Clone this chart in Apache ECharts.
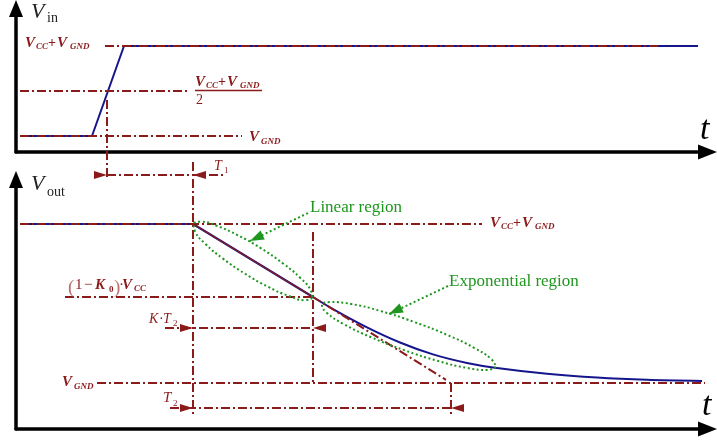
<!DOCTYPE html>
<html><head><meta charset="utf-8">
<script src="https://cdn.jsdelivr.net/npm/echarts@6/dist/echarts.min.js"></script>
<style>html,body{margin:0;padding:0;background:#fff}#c{width:717px;height:443px}</style>
</head><body><div id="c"></div>
<script>
// ---- data: time t (arbitrary units from the V axis), voltage in % of (VCC+VGND) above VGND ----
const vinT = [4, 76, 108, 682];
const vinV = [0, 0, 100, 100];
const inHighT = [89, 644];
const inHalfT = [4, 174];
const inLowT = [4, 226];
const inMarkT = [91, 91];
const inMarkV = [40, -48.9];
const t1DimT = [91, 209];
const t1DimV = -43.3;
const t1Ends = [91, 177];

const voutT = [4, 177, 297];
const voutV = [100, 100, 54.1];
const voutExpT = [297, 317, 351, 384, 417, 451, 479, 531, 581, 631, 686];
const voutExpV = [54.1, 46.5, 35.0, 25.5, 18.0, 12.6, 9.6, 5.8, 3.4, 2.0, 1.3];
const tangentT = [177, 297, 430];
const tangentV = [100, 54.1, 2];
const outHighT = [4, 466];
const k0Level = 54.1;
const k0T = [49, 297];
const outLowT = [81, 689];
const markStartT = [177, 177];
const markStartV = [139, -20.1];
const markKT = [297, 297];
const markKV = [95, 0];
const markT2T = [435, 435];
const markT2V = [0, -20.1];
const ktDimT = [149, 297];
const ktDimV = 34.6;
const ktEnds = [177, 297];
const t2DimT = [154, 435];
const t2DimV = -15.7;
const t2Ends = [177, 435];
const linEllT = [296.4, 288.8, 273.4, 252.4, 229.1, 207.0, 189.4, 179.2, 177.6, 185.2, 200.6, 221.6, 245.0, 267.0, 284.6, 294.8, 296.4];
const linEllV = [53.4, 52.1, 54.6, 60.4, 68.7, 78.2, 87.5, 95.2, 100.1, 101.4, 98.9, 93.0, 84.7, 75.2, 65.9, 58.2, 53.4];
const expEllT = [480.0, 471.5, 450.9, 421.7, 388.0, 355.0, 327.9, 310.7, 306.0, 314.5, 335.1, 364.4, 398.0, 431.0, 458.1, 475.3, 480.0];
const expEllV = [10.1, 8.2, 9.5, 13.9, 20.7, 28.8, 37.0, 44.2, 49.1, 50.9, 49.7, 45.3, 38.4, 30.3, 22.1, 15.0, 10.1];
const linLeadT = [292, 234];
const linLeadV = [106.9, 89.3];
const expLeadT = [432, 373];
const expLeadV = [61.0, 43.4];

// ---- styles ----
const RED = '#8b1a1a', BLUE = '#16168c', GREEN = '#1f961f', PALE = '#b87070';
const DASHDOT = [9, 3, 2, 3];
const FONT = '"Liberation Serif", "Times New Roman", serif';

function line(g, ts, vs, color, width, type, extra) {
  return Object.assign({
    type: 'line', xAxisIndex: g, yAxisIndex: g,
    data: ts.map((t, i) => [t, Array.isArray(vs) ? vs[i] : vs]),
    showSymbol: false, symbol: 'none', clip: false, silent: true, animation: false,
    lineStyle: { color: color, width: width, type: type }
  }, extra || {});
}
function dimHeads(g, ends, v) {
  const L = 13;
  return {
    type: 'scatter', xAxisIndex: g, yAxisIndex: g, silent: true, animation: false, clip: false,
    symbol: 'triangle', symbolSize: [8, L], itemStyle: { color: RED, opacity: 1 },
    data: [
      { value: [ends[0], v], symbolRotate: -90, symbolOffset: [-L / 2, 0] },
      { value: [ends[1], v], symbolRotate: 90, symbolOffset: [L / 2, 0] }
    ]
  };
}
function leadHead(g, ts, vs) {
  return {
    type: 'scatter', xAxisIndex: g, yAxisIndex: g, silent: true, animation: false, clip: false,
    symbol: 'triangle', symbolSize: [10, 14], itemStyle: { color: GREEN, opacity: 1 },
    data: [{ value: [ts[1], vs[1]], symbolRotate: 115, symbolOffset: [6.3, -3] }]
  };
}
function tx(x, b, s, size, f, color) {
  const font = (f.indexOf('i') >= 0 ? 'italic ' : '') + (f.indexOf('b') >= 0 ? 'bold ' : '') + size + 'px ' + FONT;
  return { type: 'text', x: x, y: b - 0.34 * size, z: 100, silent: true,
    style: { text: s, font: font, fill: color, align: 'left', verticalAlign: 'middle' } };
}
function vccLabel(x, b) {
  return [
    tx(x, b, 'V', 15, 'ib', RED), tx(x + 11, b + 2, 'CC', 9, 'ib', RED),
    tx(x + 23, b, '+', 14, 'b', RED), tx(x + 32, b, 'V', 15, 'ib', RED),
    tx(x + 45, b + 2, 'GND', 9, 'ib', RED)
  ];
}
function gndLabel(x, b) {
  return [tx(x, b, 'V', 15, 'ib', RED), tx(x + 12, b + 3, 'GND', 9, 'ib', RED)];
}

const axisCommon = { axisTick: { show: false }, axisLabel: { show: false }, splitLine: { show: false } };
function xAx(g) {
  return Object.assign({ type: 'value', gridIndex: g, min: 0, max: 691.5, position: 'bottom',
    axisLine: { show: true, onZero: false, symbol: ['none', 'triangle'], symbolSize: [15, 19],
      lineStyle: { color: '#000', width: 3.5 } } }, axisCommon);
}
function yAx(g, min, max) {
  return Object.assign({ type: 'value', gridIndex: g, min: min, max: max, position: 'left',
    axisLine: { show: true, onZero: false, symbol: ['none', 'triangle'], symbolSize: [14, 17],
      lineStyle: { color: '#000', width: 3.5 } } }, axisCommon);
}

const series = [
  // top panel
  line(0, vinT, vinV, BLUE, 2, 'solid'),
  line(0, inHighT, 100, RED, 2, DASHDOT),
  line(0, inHalfT, 50, RED, 2, DASHDOT),
  line(0, inLowT, 0, RED, 2, DASHDOT),
  line(0, inMarkT, inMarkV, RED, 2, DASHDOT),
  line(0, t1DimT, t1DimV, RED, 2, DASHDOT),
  dimHeads(0, t1Ends, t1DimV),
  // bottom panel
  line(1, voutT, voutV, BLUE, 2.2, 'solid'),
  line(1, voutExpT, voutExpV, BLUE, 2, 'solid', { smooth: 0.3 }),
  line(1, outHighT, 100, RED, 2, DASHDOT),
  line(1, tangentT.slice(0, 2), tangentV.slice(0, 2), RED, 1.3, 'solid'),
  line(1, tangentT.slice(1), tangentV.slice(1), RED, 2, DASHDOT),
  line(1, k0T, k0Level, RED, 2, DASHDOT),
  line(1, outLowT, 0, RED, 2, DASHDOT),
  line(1, markStartT, markStartV, RED, 2, DASHDOT),
  line(1, markKT, markKV, RED, 2, DASHDOT),
  line(1, markT2T, markT2V, RED, 2, DASHDOT),
  line(1, ktDimT, ktDimV, RED, 2, DASHDOT),
  dimHeads(1, ktEnds, ktDimV),
  line(1, t2DimT, t2DimV, RED, 2, DASHDOT),
  dimHeads(1, t2Ends, t2DimV),
  line(1, linEllT, linEllV, GREEN, 2, [2, 2.5], { smooth: 0.5 }),
  line(1, expEllT, expEllV, GREEN, 2, [2, 2.5], { smooth: 0.5 }),
  line(1, linLeadT, linLeadV, GREEN, 2, [2, 2.5]),
  leadHead(1, linLeadT, linLeadV),
  line(1, expLeadT, expLeadV, GREEN, 2, [2, 2.5]),
  leadHead(1, expLeadT, expLeadV)
];

const texts = [].concat(
  [tx(31, 20, 'V', 22, 'i', '#222'), tx(47, 23, 'in', 14, '', '#222')],
  vccLabel(25, 48),
  vccLabel(195, 87),
  [tx(196, 105, '2', 14, '', RED)],
  gndLabel(249, 142),
  [tx(214, 171, 'T', 14, 'i', RED), tx(224, 174, '1', 9, '', RED)],
  [tx(700, 142, 't', 34, 'i', '#000')],
  [tx(31, 192, 'V', 22, 'i', '#222'), tx(47, 197, 'out', 14, '', '#222')],
  [tx(310, 213, 'Linear region', 17, '', GREEN)],
  vccLabel(490, 228),
  [tx(449, 287, 'Exponential region', 17, '', GREEN)],
  [tx(68, 294, '(', 19, '', PALE), tx(75, 290, '1', 15, '', RED), tx(84, 290, '\u2212', 15, '', RED),
   tx(95, 290, 'K', 15, 'ib', RED), tx(109, 293, '0', 9, 'b', RED), tx(114, 294, ')', 19, '', PALE),
   tx(119, 290, '\u00b7', 15, '', RED), tx(122, 290, 'V', 15, 'ib', RED), tx(134, 292, 'CC', 9, 'ib', RED)],
  [tx(149, 324, 'K', 14, 'i', RED), tx(159, 324, '\u00b7', 14, '', RED), tx(163, 324, 'T', 14, 'i', RED), tx(173, 327, '2', 9, '', RED)],
  gndLabel(62, 387),
  [tx(163, 403, 'T', 15, 'i', RED), tx(173, 407, '2', 9, '', RED)],
  [tx(702, 418, 't', 34, 'i', '#000')],
  [{ type: 'line', z: 100, silent: true, shape: { x1: 195, y1: 90.5, x2: 262, y2: 90.5 }, style: { stroke: RED, lineWidth: 1.3 } }]
);

const chart = echarts.init(document.getElementById('c'), null, { renderer: 'canvas' });
chart.setOption({
  animation: false,
  backgroundColor: '#fff',
  grid: [
    { left: 16, top: 8.5, width: 691.5, height: 143.5 },
    { left: 16, top: 179.5, width: 691.5, height: 249.5 }
  ],
  xAxis: [xAx(0), xAx(1)],
  yAxis: [yAx(0, -17.78, 141.67), yAx(1, -28.93, 127.99)],
  series: series,
  graphic: { elements: texts }
});
</script>
</body></html>
